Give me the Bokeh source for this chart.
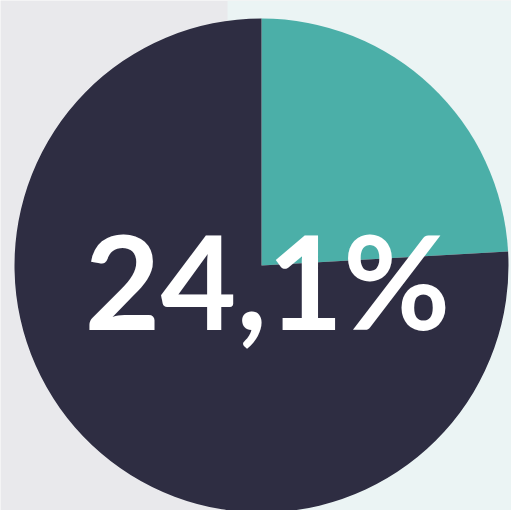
import math
from bokeh.plotting import figure
from bokeh.models import BoxAnnotation, ColumnDataSource
from bokeh.core.properties import value
from bokeh.embed import file_html
from bokeh.resources import INLINE

# Data
labels = ["Share", "Rest"]
shares = [24.1, 75.9]
colors = ["#4bafa8", "#2e2d42"]
center_label = "24,1%"

W, H = 511, 510
p = figure(width=W, height=H, x_range=(0, W), y_range=(0, H),
           output_backend="svg", toolbar_location=None, min_border=0,
           background_fill_color="#e9e9ec", border_fill_color="#e9e9ec")
p.axis.visible = False
p.grid.visible = False
p.outline_line_color = None

p.add_layout(BoxAnnotation(left=227, fill_color="#ebf4f4", fill_alpha=1.0, line_color=None, level="underlay"))

total = sum(shares)
starts, ends = [], []
acc = 0.0
for s in shares:
    a0 = math.pi / 2 - 2 * math.pi * acc / total
    acc += s
    a1 = math.pi / 2 - 2 * math.pi * acc / total
    starts.append(a0)
    ends.append(a1)

src = ColumnDataSource(dict(label=labels, share=shares, color=colors, start=starts, end=ends))
cx, cy, r = 261, 245, 247
p.wedge(x=cx, y=cy, radius=r, start_angle="start", end_angle="end", direction="clock",
        fill_color="color", line_color=None, source=src)

p.text(x=[267], y=[231], text=[center_label], text_color="white",
       text_font=value("Lato"), text_font_style="bold", text_font_size="131px",
       text_align="center", text_baseline="alphabetic")

open("out.html", "w").write(file_html(p, INLINE))
